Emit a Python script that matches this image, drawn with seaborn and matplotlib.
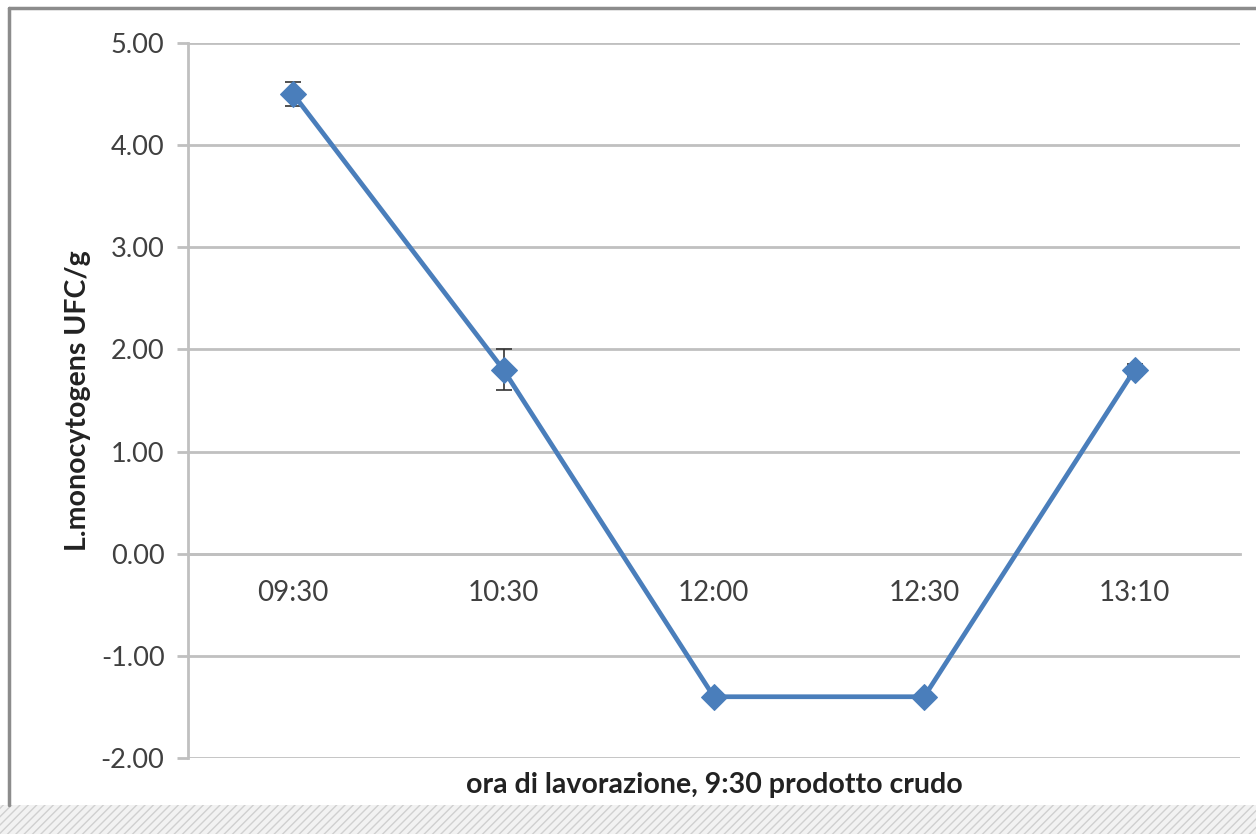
import matplotlib
matplotlib.use("Agg")
import matplotlib.pyplot as plt
import seaborn as sns
import pandas as pd
from matplotlib.patches import Rectangle
from matplotlib.lines import Line2D

# dati
orari = ['09:30', '10:30', '12:00', '12:30', '13:10']
ufc = [4.50, 1.80, -1.40, -1.40, 1.80]
err = [0.12, 0.20, 0.0, 0.0, 0.06]
yticks = [-2, -1, 0, 1, 2, 3, 4, 5]

df = pd.DataFrame({'ora': orari, 'ufc': ufc, 'err': err})

sns.set_theme(style='white')
plt.rcParams['font.family'] = ['Lato', 'DejaVu Sans']

blu = '#4a7ebb'
griglia = '#c0c0c0'

fig = plt.figure(figsize=(12.56, 8.34), dpi=100)
ax = fig.add_axes([0.1497, 0.0911, 0.8373, 0.8573])

sns.lineplot(data=df, x='ora', y='ufc', sort=False, color=blu, lw=3.4,
             marker='D', markersize=13, markeredgecolor=blu, ax=ax, zorder=3)
ax.errorbar(df['ora'], df['ufc'], yerr=df['err'], fmt='none', ecolor='#333333',
            elinewidth=1.2, capsize=6, capthick=1.2, zorder=2)

ax.set_xlim(-0.5, len(orari) - 0.5)
ax.set_ylim(-2, 5)
ax.set_yticks(yticks)
ax.set_yticklabels([f'{v:.2f}' for v in yticks], fontsize=19.5, color='#404040')
ax.grid(axis='y', color=griglia, lw=2)
ax.set_axisbelow(True)

for s in ['top', 'right']:
    ax.spines[s].set_visible(False)
ax.spines['left'].set_color(griglia)
ax.spines['left'].set_linewidth(2)
ax.spines['bottom'].set_position(('data', 0))
ax.spines['bottom'].set_color(griglia)
ax.spines['bottom'].set_linewidth(2)

ax.set_xticks(range(len(orari)))
ax.set_xticks([i - 0.5 for i in range(len(orari) + 1)], minor=True)
ax.tick_params(axis='x', which='major', length=0, pad=19, labelsize=20, labelcolor='#404040')
ax.tick_params(axis='x', which='minor', length=7, width=1.5, color=griglia, direction='out')
ax.tick_params(axis='y', length=8, width=2, color=griglia, direction='out', left=True, pad=9)

ax.set_xlabel('')
ax.set_ylabel('L.monocytogens UFC/g', fontsize=20.5, fontweight='bold', color='#222222', labelpad=7)
fig.text(0.5685, 0.059, 'ora di lavorazione, 9:30 prodotto crudo', ha='center', va='center',
         fontsize=20.5, fontweight='bold', color='#222222')

# cornice e fascia tratteggiata in basso
fig.add_artist(Line2D([0.007, 0.007], [0.035, 0.991], transform=fig.transFigure, color='#8c8c8c', lw=2.5))
fig.add_artist(Line2D([0.007, 1.0], [0.991, 0.991], transform=fig.transFigure, color='#8c8c8c', lw=2.5))
fig.add_artist(Rectangle((0, 0), 1, 0.035, transform=fig.transFigure, facecolor='#f2f2f2',
                         edgecolor='#d0d0d0', hatch='////', lw=0))

fig.savefig('out.png', dpi=100)
